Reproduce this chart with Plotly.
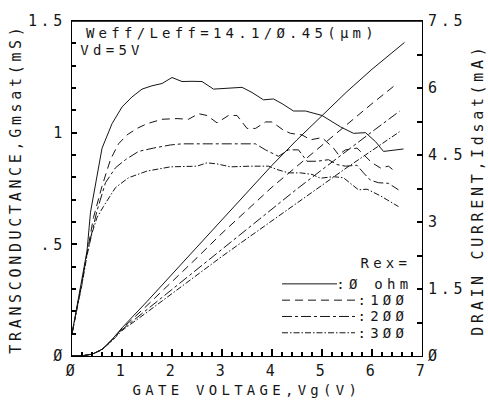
import plotly.graph_objects as go

# ---------------- data ----------------
# Transconductance Gmsat (mS) vs gate voltage Vg (V), one series per Rex
vg_gm_0 = [0, 0.1, 0.2, 0.3, 0.37, 0.45, 0.6, 0.8, 1.0, 1.2, 1.4, 1.6, 1.8, 2.0, 2.2, 2.4, 2.6, 2.83,
           3.0, 3.2, 3.4, 3.6, 3.83, 4.03, 4.2, 4.43, 4.67, 5.0, 5.2, 5.37, 5.63, 5.87, 6.07, 6.23, 6.63]
gm_0 = [0.10, 0.22, 0.34, 0.47, 0.644, 0.74, 0.93, 1.04, 1.115, 1.16, 1.195, 1.21, 1.22, 1.247, 1.229, 1.23, 1.229, 1.195,
        1.198, 1.2, 1.203, 1.18, 1.147, 1.151, 1.13, 1.097, 1.097, 1.077, 1.05, 1.026, 0.997, 1.0, 0.96, 0.916, 0.927]

vg_gm_100 = [0, 0.1, 0.2, 0.3, 0.43, 0.6, 0.77, 0.93, 1.1, 1.3, 1.5, 1.8, 2.1, 2.33, 2.53, 2.7, 2.9, 3.13, 3.3,
             3.5, 3.67, 3.87, 4.0, 4.23, 4.37, 4.6, 4.77, 5.0, 5.23, 5.33, 5.47, 5.7, 5.83, 6.0, 6.17, 6.33, 6.43]
gm_100 = [0.10, 0.21, 0.33, 0.46, 0.62, 0.76, 0.88, 0.95, 0.99, 1.019, 1.04, 1.06, 1.063, 1.06, 1.085, 1.077, 1.044, 1.077, 1.077,
          1.019, 1.019, 1.048, 1.048, 1.011, 0.997, 0.99, 0.968, 0.978, 0.931, 0.901, 0.923, 0.931, 0.901, 0.865, 0.842, 0.85, 0.832]

vg_gm_200 = [0, 0.1, 0.2, 0.3, 0.4, 0.5, 0.67, 0.87, 1.07, 1.33, 1.63, 1.97, 2.2, 2.6, 3.0, 3.4, 3.67, 3.87, 4.13,
             4.33, 4.53, 4.7, 4.9, 5.13, 5.3, 5.47, 5.7, 5.83, 5.97, 6.13, 6.33, 6.53]
gm_200 = [0.10, 0.21, 0.33, 0.46, 0.56, 0.65, 0.776, 0.843, 0.879, 0.916, 0.931, 0.945, 0.95, 0.95, 0.95, 0.95, 0.95, 0.923, 0.894,
          0.923, 0.923, 0.872, 0.872, 0.879, 0.857, 0.85, 0.854, 0.82, 0.787, 0.776, 0.773, 0.744]

vg_gm_300 = [0, 0.1, 0.2, 0.3, 0.4, 0.5, 0.63, 0.87, 1.13, 1.5, 1.97, 2.5, 2.7, 2.9, 3.17, 3.57, 3.93, 4.1, 4.33,
             4.57, 4.8, 4.97, 5.23, 5.43, 5.6, 5.73, 5.9, 6.17, 6.53]
gm_300 = [0.10, 0.21, 0.32, 0.45, 0.55, 0.62, 0.67, 0.754, 0.798, 0.828, 0.847, 0.85, 0.865, 0.86, 0.847, 0.85, 0.85, 0.835, 0.82,
          0.82, 0.813, 0.796, 0.803, 0.798, 0.769, 0.744, 0.747, 0.717, 0.669]

# Drain current Idsat (mA) vs Vg (V)
vg_id_0 = [0, 0.2, 0.4, 0.6, 0.8, 1.0, 1.5, 2.0, 2.5, 3.0, 3.5, 4.0, 4.5, 5.0, 5.5, 6.0, 6.65]
id_0 = [0, 0.005, 0.04, 0.15, 0.37, 0.63, 1.22, 1.83, 2.45, 3.06, 3.67, 4.27, 4.84, 5.39, 5.92, 6.42, 7.02]
vg_id_100 = [0, 0.2, 0.4, 0.6, 0.8, 1.0, 1.5, 2.0, 2.5, 3.0, 3.5, 4.0, 4.5, 5.0, 5.5, 6.0, 6.47]
id_100 = [0, 0.005, 0.04, 0.15, 0.36, 0.61, 1.13, 1.66, 2.2, 2.75, 3.27, 3.78, 4.25, 4.72, 5.2, 5.65, 6.07]
vg_id_200 = [0, 0.2, 0.4, 0.6, 0.8, 1.0, 1.5, 2.0, 2.5, 3.0, 3.5, 4.0, 4.5, 5.0, 5.5, 6.0, 6.55]
id_200 = [0, 0.005, 0.04, 0.14, 0.35, 0.59, 1.04, 1.49, 1.95, 2.41, 2.86, 3.3, 3.74, 4.17, 4.6, 5.02, 5.48]
vg_id_300 = [0, 0.2, 0.4, 0.6, 0.8, 1.0, 1.5, 2.0, 2.5, 3.0, 3.5, 4.0, 4.5, 5.0, 5.5, 6.0, 6.55]
id_300 = [0, 0.005, 0.04, 0.14, 0.34, 0.57, 0.98, 1.4, 1.82, 2.23, 2.63, 3.03, 3.43, 3.83, 4.22, 4.6, 5.02]

rex_labels = [":Ø ohm", ":1ØØ", ":2ØØ", ":3ØØ"]

# tick labels: the plotter writes zero as "Ø" and 0.5 as ".5"
x_label_alias = {"0": "Ø"}
y_label_alias = {"0": "Ø", "0.5": ".5"}
y2_label_alias = {"0": "Ø"}

# ---------------- styling ----------------
INK = "#161616"
FONT = dict(family="DejaVu Sans Mono", size=15, color=INK)
ANN_FONT = dict(family="DejaVu Sans Mono", size=14, color=INK)
dashes = ["solid", "8px,5px", "10px,3px,3px,3px", "6px,2px,1.5px,2px"]

gm_sets = [(vg_gm_0, gm_0), (vg_gm_100, gm_100), (vg_gm_200, gm_200), (vg_gm_300, gm_300)]
id_sets = [(vg_id_0, id_0), (vg_id_100, id_100), (vg_id_200, id_200), (vg_id_300, id_300)]

fig = go.Figure()
for (xs, ys), d, lab in zip(gm_sets, dashes, rex_labels):
    fig.add_trace(go.Scatter(x=xs, y=ys, mode="lines", name="Gm" + lab, showlegend=False,
                             line=dict(color=INK, width=1, dash=d)))
for (xs, ys), d, lab in zip(id_sets, dashes, rex_labels):
    fig.add_trace(go.Scatter(x=xs, y=ys, mode="lines", name="Id" + lab, yaxis="y2", showlegend=False,
                             line=dict(color=INK, width=1, dash=d)))

# plot area in pixels: x 72..422, y 17..356
W, H = 488, 404
L, R, T, B = 72, 66, 17, 48
PW, PH = W - L - R, H - T - B


def px(x):
    return (x - L) / PW


def py(y):
    return (H - B - y) / PH


annotations = [
    dict(text="Weff/Leff=14.1/Ø.45(μm)", x=px(232), y=py(29.5), font=ANN_FONT),
    dict(text="Vd=5V", x=px(112.5), y=py(46), font=ANN_FONT),
    dict(text="Rex=", x=px(386), y=py(262), font=ANN_FONT),
    # axis titles
    dict(text="GATE VOLTAGE,Vg(V)", x=px(247), y=py(390), font=ANN_FONT),
    dict(text="TRANSCONDUCTANCE,Gmsat(mS)", x=px(15.5), y=py(186.5), textangle=-90, font=FONT),
    dict(text="DRAIN CURRENT,Idsat(mA)", x=px(478), y=py(187.5), textangle=-90, font=FONT),
]
rows_y = [283, 299.5, 316, 332.5]
text_cx = [374, 383, 383, 383]
line_x1 = [337, 355, 355, 355]
shapes = [dict(type="line", xref="paper", yref="paper", x0=0, x1=1, y0=1, y1=1,
               line=dict(color="black", width=1.5))]  # top frame line
for lab, ry, cx, x1, d in zip(rex_labels, rows_y, text_cx, line_x1, dashes):
    annotations.append(dict(text=lab, x=px(cx), y=py(ry), font=ANN_FONT))
    shapes.append(dict(type="line", xref="paper", yref="paper", x0=px(282), x1=px(x1), y0=py(ry), y1=py(ry),
                       line=dict(color=INK, width=1, dash=d)))
for a in annotations:
    a.update(xref="paper", yref="paper", xanchor="center", yanchor="middle", showarrow=False)

fig.update_layout(
    width=W, height=H, margin=dict(l=L, r=R, t=T, b=B),
    paper_bgcolor="white", plot_bgcolor="white", font=FONT, showlegend=False,
    xaxis=dict(range=[0, 7], showline=True, linecolor="black", showgrid=False, mirror=True,
               layer="above traces",
               ticks="inside", ticklen=7, tickwidth=1.5, tickcolor="black",
               tickmode="linear", tick0=0, dtick=1,
               labelalias=x_label_alias, ticklabelstandoff=1,
               minor=dict(ticks="inside", ticklen=4, tickwidth=1.5, tickcolor="black", tick0=0, dtick=0.2)),
    yaxis=dict(range=[0, 1.5], showline=True, linecolor="black", showgrid=False,
               layer="above traces",
               ticks="inside", ticklen=5, tickwidth=1.5, tickcolor="black",
               tickmode="linear", tick0=0, dtick=0.5,
               labelalias=y_label_alias, ticklabelstandoff=2,
               minor=dict(ticks="inside", ticklen=4, tickwidth=1.5, tickcolor="black", tick0=0, dtick=0.1)),
    yaxis2=dict(range=[0, 7.5], showline=True, linecolor="black", showgrid=False,
                layer="above traces",
                ticks="inside", ticklen=5, tickwidth=1.5, tickcolor="black",
                tickmode="linear", tick0=0, dtick=1.5,
                labelalias=y2_label_alias, overlaying="y", side="right", ticklabelstandoff=2,
                minor=dict(ticks="inside", ticklen=5, tickwidth=1.5, tickcolor="black", tick0=0, dtick=0.75)),
    annotations=annotations, shapes=shapes,
)

spacing_js = """
function plotterSpacing(){
  document.querySelectorAll('.main-svg text').forEach(function(t){
    var fs = parseFloat(t.style.fontSize || window.getComputedStyle(t).fontSize) || 15;
    var ls = Math.max(0, 12.7 - 0.602 * fs);
    t.style.letterSpacing = ls.toFixed(2) + 'px';
  });
}
plotterSpacing();
"""
fig.write_html("out.html", post_script=spacing_js)
